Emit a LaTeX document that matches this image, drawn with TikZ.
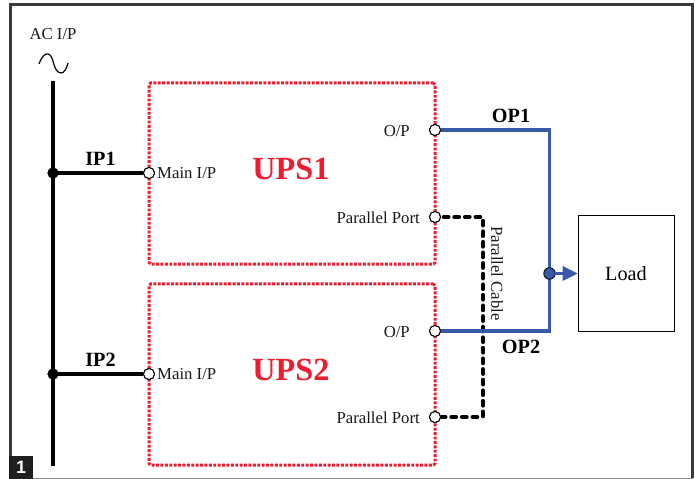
\documentclass[tikz,border=0pt]{standalone}
\usepackage{fontspec}
\setmainfont{Liberation Serif}
\newfontfamily\badgefont{Liberation Sans}
\definecolor{upsred}{HTML}{ED1C2E}
\definecolor{opblue}{HTML}{3A58A8}
\definecolor{framegray}{HTML}{3A3A3A}
\tikzset{
  upsbox/.style={draw=upsred,line width=3bp,dash pattern=on 2.9bp off 1.5bp,rounded corners=1.5bp},
  port/.style={circle,draw=black,fill=white,line width=1bp,inner sep=0pt,minimum size=11bp},
  joint/.style={circle,fill=black,inner sep=0pt,minimum size=11bp},
  bluejoint/.style={circle,draw=black,fill=opblue,line width=.8bp,inner sep=0pt,minimum size=11.5bp},
  bus/.style={draw=black,line width=4bp},
  feed/.style={draw=opblue,line width=3.8bp,line join=miter},
  pcable/.style={draw=black,line width=4.6bp,line cap=round,dash pattern=on 4.2bp off 6.4bp,rounded corners=1bp},
  lbl/.style={font=\fontsize{16.8}{18}\selectfont,text=black!90,inner sep=0pt},
  bold/.style={font=\fontsize{20.3}{22}\selectfont\bfseries,inner sep=0pt},
  upsname/.style={font=\fontsize{32.4}{34}\selectfont\bfseries,text=upsred,inner sep=0pt},
}
\begin{document}
\begin{tikzpicture}[x=1bp,y=-1bp]
\useasboundingbox (0,0) rectangle (695,479);
\fill[white] (0,0) rectangle (695,479);
% frame
\draw[framegray,line width=2.8bp] (10.5,478) -- (10.5,4.3) -- (692.5,4.3) -- (692.5,478);
\draw[black!45,line width=1bp] (10,478.5) -- (693,478.5);
% badge
\node[fill=black!88,minimum width=24bp,minimum height=23bp,inner sep=0pt,text=white,font=\badgefont\fontsize{18}{19}\selectfont\bfseries] (badge) at (21,467.5) {1};
% ac
\node[lbl] (ac) at (53,34.5) {AC I/P};
\draw[black,line width=1.2bp] (39,64) .. controls (42,56) and (45,53.5) .. (48,54) .. controls (51,54.5) and (52,58) .. (53.5,63) .. controls (55,68) and (57,73) .. (61,73) .. controls (64,73) and (66.5,69) .. (68,63);
% boxes
\node[upsbox,minimum width=286bp,minimum height=181bp,inner sep=0pt] (u1) at (292,173.5) {};
\node[upsbox,minimum width=286bp,minimum height=181bp,inner sep=0pt] (u2) at (292,374.5) {};
\node[draw=black,line width=1bp,minimum width=96bp,minimum height=115bp,inner sep=0pt,font=\fontsize{20.3}{22}\selectfont] (load) at (626,273.5) {Load};
\node[upsname] (n1) at (291,169) {UPS1};
\node[upsname] (n2) at (291,370) {UPS2};
% anchors
\coordinate (bustop) at (53,81);
\coordinate (busbot) at (53,466);
\node[port] (mi1) at (149,173) {};
\node[port] (mi2) at (149,374) {};
\node[port] (op1) at (435,130) {};
\node[port] (pp1) at (435,217) {};
\node[port] (op2) at (435,331) {};
\node[port] (pp2) at (435,417) {};
\node[joint] (j1) at (53,173) {};
\node[joint] (j2) at (53,374) {};
\coordinate (c1) at (549.5,130);
\coordinate (c2) at (549.5,331);
\coordinate (p1) at (483,217);
\coordinate (p2) at (483,417);
% connectors
\draw[bus] (bustop) -- (busbot);
\draw[bus] (j1.center) -- (mi1);
\draw[bus] (j2.center) -- (mi2);
\draw[pcable] ([xshift=3bp]pp1.east) -- (p1) -- (p2) -- ([xshift=1bp]pp2.east);
\draw[feed] (op1) -- (c1) -- (c2) -- (op2);
\node[bluejoint] (bj) at (549.5,273.5) {};
\draw[draw=opblue,line width=3.8bp] (bj) -- ([xshift=-12bp]load.west);
\fill[opblue] (load.west) -- ++(-15,-7.5) -- ++(0,15) -- cycle;
% redraw ports above
\node[port] at (mi1) {};
\node[port] at (mi2) {};
\node[port] at (op1) {};
\node[port] at (pp1) {};
\node[port] at (op2) {};
\node[port] at (pp2) {};
\node[joint] at (j1) {};
\node[joint] at (j2) {};
% labels
\node[bold] (ip1) at (100.5,158.5) {IP1};
\node[bold] (ip2) at (100.5,359.5) {IP2};
\node[bold] (o1) at (511,115.5) {OP1};
\node[bold] (o2) at (521,346.5) {OP2};
\node[lbl,anchor=west] at (157,173.5) {Main I/P};
\node[lbl,anchor=west] at (157,374.5) {Main I/P};
\node[lbl,anchor=east] at (410,131) {O/P};
\node[lbl,anchor=east] at (410,332) {O/P};
\node[lbl,anchor=east] at (420,217.5) {Parallel Port};
\node[lbl,anchor=east] at (420,417.5) {Parallel Port};
\node[lbl,rotate=-90] at (497,273.5) {Parallel Cable};
\end{tikzpicture}
\end{document}
